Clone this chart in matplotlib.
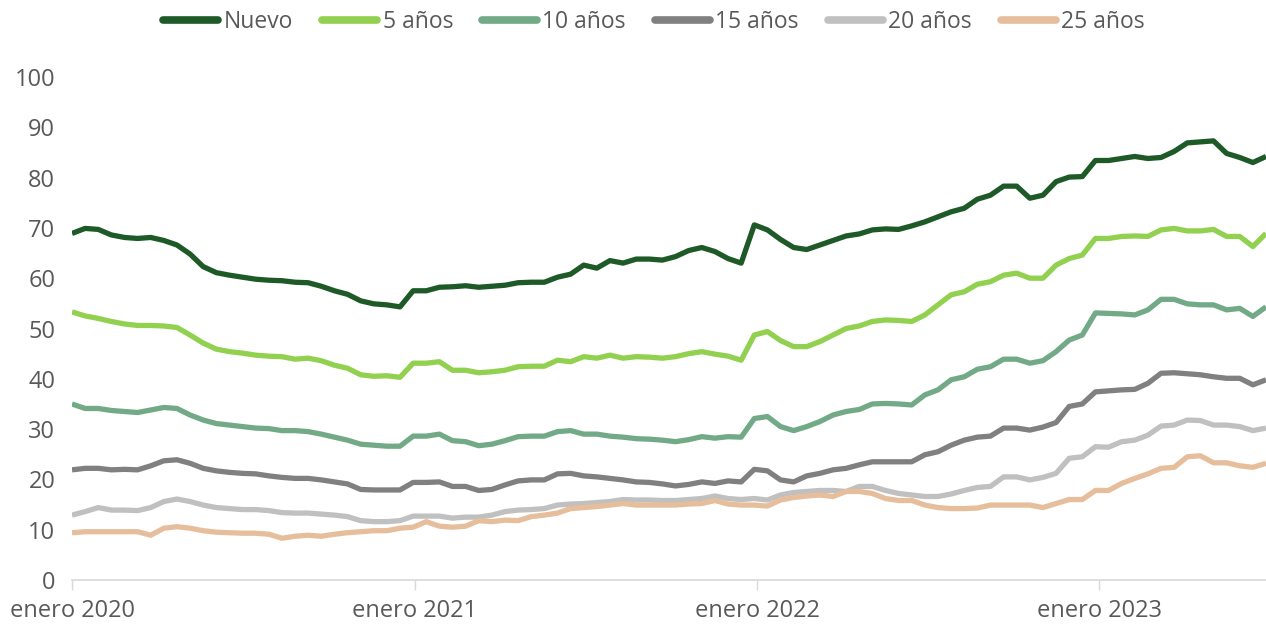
import matplotlib
matplotlib.use("Agg")
import matplotlib.pyplot as plt
from matplotlib.lines import Line2D
import pandas as pd
from matplotlib import font_manager

# ---------------- data (biweekly, from 2020-01-01) ----------------
dates = pd.date_range("2020-01-01", periods=92, freq="14D")

nuevo = [68.9, 69.9, 69.7, 68.6, 68.1, 67.9, 68.1, 67.5, 66.6, 64.8, 62.3, 61.1, 60.6, 60.2, 59.8, 59.6,
         59.5, 59.2, 59.1, 58.4, 57.5, 56.8, 55.5, 54.9,
         54.7, 54.3, 57.5, 57.5, 58.2, 58.3, 58.5, 58.2, 58.4, 58.6, 59.1, 59.2, 59.2, 60.2, 60.8, 62.6,
         62.0, 63.5, 63.0, 63.8, 63.8, 63.6, 64.3, 65.5,
         66.1, 65.3, 63.9, 63.0, 70.6, 69.6, 67.7, 66.1, 65.7, 66.6, 67.5, 68.4, 68.8, 69.6, 69.8, 69.7,
         70.4, 71.2, 72.2, 73.2, 73.9, 75.7,
         76.5, 78.3, 78.3, 75.9, 76.5, 79.2, 80.1, 80.2, 83.4, 83.4, 83.8, 84.2, 83.8, 84.0, 85.2, 86.9,
         87.1, 87.3, 84.8, 84.0, 83.0, 84.2]
anos5 = [53.3, 52.5, 52.0, 51.4, 50.9, 50.6, 50.6, 50.5, 50.2, 48.7, 47.1, 45.9, 45.4, 45.1, 44.7, 44.5,
         44.4, 43.9, 44.1, 43.6, 42.7, 42.1, 40.8, 40.5,
         40.6, 40.3, 43.1, 43.1, 43.4, 41.7, 41.7, 41.2, 41.4, 41.7, 42.4, 42.5, 42.5, 43.7, 43.4, 44.4,
         44.1, 44.7, 44.1, 44.4, 44.3, 44.1, 44.4, 45.0,
         45.4, 44.9, 44.5, 43.7, 48.7, 49.4, 47.6, 46.4, 46.4, 47.4, 48.7, 50.0, 50.5, 51.4, 51.7, 51.6,
         51.4, 52.7, 54.7, 56.7, 57.3, 58.8,
         59.3, 60.6, 61.0, 60.0, 60.0, 62.6, 63.9, 64.6, 67.9, 67.9, 68.3, 68.4, 68.3, 69.6, 69.9, 69.4,
         69.4, 69.7, 68.3, 68.3, 66.3, 68.9]
anos10 = [35.0, 34.1, 34.1, 33.7, 33.5, 33.3, 33.8, 34.3, 34.1, 32.8, 31.8, 31.1, 30.8, 30.5, 30.2, 30.1,
          29.7, 29.7, 29.5, 29.0, 28.4, 27.8, 27.0, 26.8,
          26.6, 26.6, 28.6, 28.6, 29.0, 27.7, 27.5, 26.7, 27.0, 27.7, 28.5, 28.6, 28.6, 29.5, 29.7, 29.0,
          29.0, 28.6, 28.4, 28.1, 28.0, 27.8, 27.5, 27.9,
          28.5, 28.2, 28.5, 28.4, 32.1, 32.5, 30.5, 29.7, 30.5, 31.5, 32.8, 33.5, 33.9, 35.0, 35.1, 35.0,
          34.8, 36.8, 37.8, 39.8, 40.4, 41.9,
          42.4, 43.9, 43.9, 43.1, 43.6, 45.4, 47.7, 48.7, 53.1, 53.0, 52.9, 52.7, 53.7, 55.8, 55.8, 54.9,
          54.7, 54.7, 53.7, 54.0, 52.4, 54.3]
anos15 = [21.9, 22.2, 22.2, 21.9, 22.0, 21.9, 22.7, 23.7, 23.9, 23.2, 22.2, 21.7, 21.4, 21.2, 21.1, 20.7,
          20.4, 20.2, 20.2, 19.9, 19.5, 19.1, 18.0, 17.9,
          17.9, 17.9, 19.4, 19.4, 19.5, 18.6, 18.6, 17.8, 18.0, 18.9, 19.7, 19.9, 19.9, 21.1, 21.2, 20.7,
          20.5, 20.2, 19.9, 19.5, 19.4, 19.1, 18.7, 19.0,
          19.5, 19.2, 19.7, 19.5, 22.0, 21.7, 19.9, 19.5, 20.7, 21.2, 21.9, 22.2, 22.9, 23.5, 23.5, 23.5,
          23.5, 24.9, 25.5, 26.8, 27.8, 28.4,
          28.6, 30.2, 30.2, 29.8, 30.4, 31.3, 34.5, 35.0, 37.4, 37.6, 37.8, 37.9, 39.1, 41.1, 41.2, 41.0,
          40.8, 40.4, 40.1, 40.1, 38.8, 39.8]
anos20 = [12.9, 13.6, 14.4, 13.9, 13.9, 13.8, 14.4, 15.6, 16.1, 15.6, 14.9, 14.4, 14.2, 14.0, 14.0, 13.8,
          13.4, 13.3, 13.3, 13.1, 12.9, 12.6, 11.8, 11.6,
          11.6, 11.8, 12.7, 12.7, 12.7, 12.3, 12.5, 12.5, 12.9, 13.6, 13.9, 14.0, 14.2, 14.9, 15.1, 15.2,
          15.4, 15.6, 16.0, 15.9, 15.9, 15.8, 15.8, 16.0,
          16.2, 16.7, 16.2, 16.0, 16.2, 15.9, 16.9, 17.4, 17.6, 17.8, 17.8, 17.6, 18.6, 18.6, 17.8, 17.2,
          16.9, 16.6, 16.6, 17.1, 17.8, 18.4,
          18.6, 20.5, 20.5, 19.9, 20.4, 21.2, 24.2, 24.5, 26.5, 26.4, 27.5, 27.8, 28.8, 30.6, 30.8, 31.8,
          31.7, 30.8, 30.8, 30.5, 29.7, 30.2]
anos25 = [9.4, 9.6, 9.6, 9.6, 9.6, 9.6, 8.9, 10.3, 10.6, 10.3, 9.8, 9.5, 9.4, 9.3, 9.3, 9.1,
          8.3, 8.7, 8.9, 8.7, 9.1, 9.4, 9.6, 9.8,
          9.8, 10.3, 10.5, 11.6, 10.7, 10.5, 10.7, 11.8, 11.6, 11.9, 11.8, 12.6, 12.9, 13.3, 14.2, 14.4,
          14.6, 14.9, 15.2, 14.9, 14.9, 14.9, 14.9, 15.1,
          15.2, 15.8, 15.1, 14.9, 14.9, 14.7, 15.9, 16.4, 16.7, 16.9, 16.6, 17.6, 17.6, 17.2, 16.2, 15.8,
          15.8, 14.9, 14.4, 14.2, 14.2, 14.3,
          14.9, 14.9, 14.9, 14.9, 14.4, 15.2, 16.0, 16.0, 17.8, 17.8, 19.2, 20.2, 21.1, 22.2, 22.4, 24.5,
          24.7, 23.3, 23.3, 22.7, 22.4, 23.2]

series_names = ["Nuevo", "5 años", "10 años", "15 años", "20 años", "25 años"]
series_vals = [nuevo, anos5, anos10, anos15, anos20, anos25]
colors = ["#1e5a28", "#92d050", "#72aa88", "#808080", "#c0c0c0", "#e6be9c"]

yticks = list(range(0, 101, 10))
xtick_dates = pd.to_datetime(["2020-01-01", "2021-01-01", "2022-01-01", "2023-01-01"])
xtick_labels = ["enero 2020", "enero 2021", "enero 2022", "enero 2023"]

# ---------------- style ----------------
installed = {f.name for f in font_manager.fontManager.ttflist}
fam = [f for f in ["Open Sans", "DejaVu Sans"] if f in installed]
plt.rcParams["font.family"] = fam
text_color = "#595959"

W, H = 1266, 627
fig = plt.figure(figsize=(W / 100, H / 100), dpi=100)
ax = fig.add_axes([72 / W, (H - 580) / H, (1266 - 72) / W, (580 - 77) / H])

for vals, c, name in zip(series_vals, colors, series_names):
    ax.plot(dates, vals, color=c, lw=3.8, solid_joinstyle="round", solid_capstyle="butt", label=name)

ax.set_ylim(0, 100)
ax.set_xlim(dates[0], dates[-1])
ax.set_yticks(yticks)
ax.set_xticks(xtick_dates)
ax.set_xticklabels(xtick_labels)

for s in ["top", "right", "left"]:
    ax.spines[s].set_visible(False)
ax.spines["bottom"].set_color("#d9d9d9")
ax.spines["bottom"].set_linewidth(1.2)
ax.tick_params(axis="y", length=0, pad=12, labelsize=17, labelcolor=text_color)
ax.tick_params(axis="x", length=7, width=1.0, color="#d9d9d9", pad=7, labelsize=17, labelcolor=text_color)

handles = [Line2D([0], [0], color=c, lw=5.5, solid_capstyle="round") for c in colors]
fig.legend(handles, series_names, loc="center", bbox_to_anchor=(654 / W, 1 - 22 / H), ncol=6,
           frameon=False, fontsize=16.5, labelcolor=text_color, handlelength=2.4,
           handletextpad=0.25, columnspacing=1.25, borderaxespad=0)

fig.savefig("out.png", dpi=100)
